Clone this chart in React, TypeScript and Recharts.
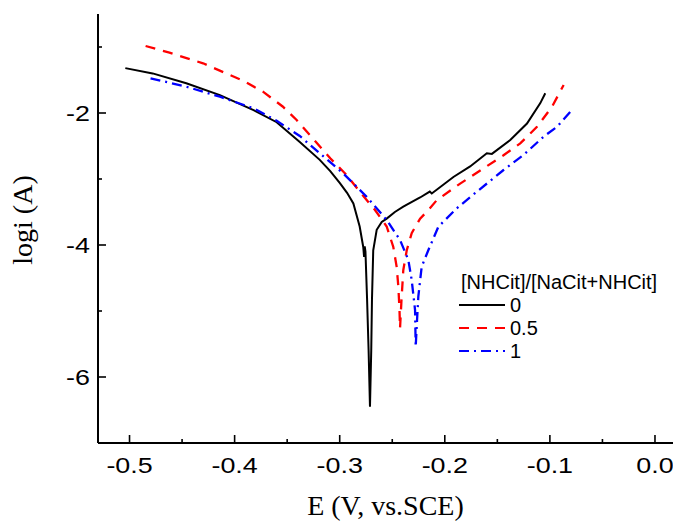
import React from 'react';
import { LineChart, Line, XAxis, YAxis, Legend } from 'recharts';

if (typeof document !== 'undefined') {
  document.body.style.margin = '0';
}

// [E (V vs. SCE), log i (A)] in scan order
const series0: [number, number][] = [
  [-0.504, -1.32], [-0.478, -1.40], [-0.446, -1.55], [-0.414, -1.73], [-0.382, -1.955],
  [-0.360, -2.14], [-0.338, -2.44], [-0.319, -2.71], [-0.309, -2.88], [-0.300, -3.06],
  [-0.293, -3.21], [-0.287, -3.37], [-0.281, -3.72], [-0.2776, -4.03], [-0.2768, -4.18],
  [-0.2762, -4.02], [-0.2755, -4.10], [-0.2740, -4.80], [-0.2725, -5.60], [-0.2712, -6.45],
  [-0.2700, -5.60], [-0.2693, -4.83], [-0.2681, -4.08], [-0.2648, -3.77], [-0.260, -3.65],
  [-0.2553, -3.60], [-0.2475, -3.50], [-0.2395, -3.42], [-0.2235, -3.28], [-0.2143, -3.19],
  [-0.2124, -3.22], [-0.1918, -2.97], [-0.1759, -2.81], [-0.160, -2.61], [-0.1552, -2.62],
  [-0.1377, -2.41], [-0.1218, -2.16], [-0.1091, -1.85], [-0.1044, -1.70],
];

const series05: [number, number][] = [
  [-0.4847, -0.985], [-0.462, -1.086], [-0.430, -1.247], [-0.392, -1.511], [-0.373, -1.677],
  [-0.354, -1.905], [-0.341, -2.106], [-0.3284, -2.333], [-0.309, -2.686], [-0.2934, -2.94],
  [-0.281, -3.19], [-0.2664, -3.47], [-0.2553, -3.72], [-0.249, -4.03], [-0.2458, -4.33],
  [-0.2442, -4.63], [-0.2431, -4.99], [-0.2426, -5.26], [-0.2412, -4.83], [-0.2395, -4.38],
  [-0.2362, -4.08], [-0.2315, -3.82], [-0.2235, -3.60], [-0.2156, -3.47], [-0.2076, -3.32],
  [-0.1854, -3.07], [-0.1632, -2.84], [-0.1441, -2.64], [-0.1282, -2.46], [-0.1123, -2.21],
  [-0.098, -1.905], [-0.0869, -1.576],
];

const series1: [number, number][] = [
  [-0.480, -1.474], [-0.446, -1.601], [-0.414, -1.753], [-0.382, -1.929], [-0.360, -2.117],
  [-0.338, -2.348], [-0.319, -2.611], [-0.2967, -2.914], [-0.2744, -3.268], [-0.2553, -3.621],
  [-0.2426, -3.924], [-0.2347, -4.227], [-0.2315, -4.530], [-0.2283, -4.985], [-0.2277, -5.541],
  [-0.2264, -5.136], [-0.2252, -4.783], [-0.222, -4.329], [-0.2156, -4.076], [-0.2061, -3.723],
  [-0.1886, -3.444], [-0.1695, -3.192], [-0.1441, -2.864], [-0.1251, -2.636], [-0.106, -2.359],
  [-0.0932, -2.208], [-0.0805, -1.980],
];

const seriesNames = ['0', '0.5', '1'];
const legendTitle = '[NHCit]/[NaCit+NHCit]';
const xTitle = 'E (V, vs.SCE)';
const yTitle = 'logi (A)';

const xMajorTicks = [-0.5, -0.4, -0.3, -0.2, -0.1, 0.0];
const xMinorTicks = [-0.45, -0.35, -0.25, -0.15, -0.05];
const yMajorTicks = [-6, -4, -2];
const yMinorTicks = [-7, -5, -3, -1];
const xDomain: [number, number] = [-0.53, 0.02];
const yDomain: [number, number] = [-7, -0.5];

const toData = (arr: [number, number][]) => arr.map(([E, v]) => ({ E, v }));

const styles = [
  { stroke: '#000000', dash: undefined as string | undefined, width: 2 },
  { stroke: '#ff0000', dash: '10 8', width: 2.3 },
  { stroke: '#0000ff', dash: '10 5 2 5', width: 2.3 },
];
const datasets = [toData(series0), toData(series05), toData(series1)];

const SANS = '"Liberation Sans", Arial, Helvetica, sans-serif';
const SERIF = '"Liberation Serif", "Times New Roman", Times, serif';

const isIn = (list: number[], v: number) => list.some((t) => Math.abs(t - v) < 1e-6);

const X_MARGIN = 30;
const Y_MARGIN = 8;
const TICK_FONT = 21.5;
const TICK_STRETCH = 1.25;

const XTick = (props: any) => {
  const { x, y, payload } = props;
  const v = payload.value;
  const major = isIn(xMajorTicks, v);
  const axisY = y - X_MARGIN;
  return (
    <g>
      <line x1={x} x2={x} y1={axisY} y2={axisY - (major ? 8 : 4)} stroke="#000" strokeWidth={1.6} />
      {major && (
        <text
          transform={`translate(${x},${y}) scale(${TICK_STRETCH},1)`}
          textAnchor="middle"
          fontFamily={SANS}
          fontSize={TICK_FONT}
          fill="#000"
        >
          {Math.abs(v) < 1e-9 ? '0.0' : v.toFixed(1)}
        </text>
      )}
    </g>
  );
};

const YTick = (props: any) => {
  const { x, y, payload } = props;
  const v = payload.value;
  const major = isIn(yMajorTicks, v);
  const axisX = x + Y_MARGIN;
  return (
    <g>
      <line x1={axisX} x2={axisX + (major ? 8 : 4)} y1={y} y2={y} stroke="#000" strokeWidth={1.6} />
      {major && (
        <text
          transform={`translate(${x},${y}) scale(${TICK_STRETCH},1)`}
          dy="0.36em"
          textAnchor="end"
          fontFamily={SANS}
          fontSize={TICK_FONT}
          fill="#000"
        >
          {String(v)}
        </text>
      )}
    </g>
  );
};

const XTitle = (props: any) => {
  const vb = props.viewBox || {};
  return (
    <text x={vb.x + vb.width / 2 - 1.5} y={vb.y + vb.height - 6} textAnchor="middle" fontFamily={SERIF} fontSize={28} fill="#000">
      {xTitle}
    </text>
  );
};

const YTitle = (props: any) => {
  const vb = props.viewBox || {};
  const cx = vb.x + 32;
  const cy = vb.y + vb.height / 2 - 8.5;
  return (
    <text x={cx} y={cy} textAnchor="middle" fontFamily={SERIF} fontSize={28} fill="#000" transform={`rotate(-90, ${cx}, ${cy})`}>
      {yTitle}
    </text>
  );
};

const LegendContent = () => (
  <div style={{ fontFamily: SANS, fontSize: 20, lineHeight: '23px', color: '#000', whiteSpace: 'nowrap' }}>
    <div style={{ paddingLeft: 2, height: 23 }}>{legendTitle}</div>
    {seriesNames.map((name, i) => (
      <div key={name} style={{ display: 'flex', alignItems: 'center', height: 23 }}>
        <svg width={46} height={10} style={{ display: 'block' }}>
          <line x1={0} x2={46} y1={5} y2={5} stroke={styles[i].stroke} strokeWidth={2} strokeDasharray={styles[i].dash} />
        </svg>
        <span style={{ marginLeft: 5 }}>{name}</span>
      </div>
    ))}
  </div>
);

export default function App() {
  return (
    <div style={{ width: 673, height: 521, overflow: 'hidden', position: 'relative' }}>
      <LineChart width={688} height={521} margin={{ top: 14, right: 12, bottom: 0, left: 0 }}>
        <XAxis
          xAxisId="top"
          orientation="top"
          type="number"
          dataKey="E"
          domain={xDomain}
          allowDataOverflow
          height={0}
          tick={false}
          tickLine={false}
          axisLine={{ stroke: '#000', strokeWidth: 2 }}
        />
        <XAxis
          type="number"
          dataKey="E"
          domain={xDomain}
          allowDataOverflow
          ticks={[...xMajorTicks, ...xMinorTicks].sort((a, b) => a - b)}
          interval={0}
          height={78}
          tickSize={0}
          tickMargin={X_MARGIN}
          tickLine={false}
          tick={<XTick />}
          axisLine={{ stroke: '#000', strokeWidth: 2 }}
          label={<XTitle />}
        />
        <YAxis
          type="number"
          domain={yDomain}
          allowDataOverflow
          ticks={[...yMinorTicks, ...yMajorTicks].sort((a, b) => a - b)}
          interval={0}
          width={98}
          tickSize={0}
          tickMargin={Y_MARGIN}
          tickLine={false}
          tick={<YTick />}
          axisLine={{ stroke: '#000', strokeWidth: 2 }}
          label={<YTitle />}
        />
        {datasets.map((d, i) => (
          <Line
            key={seriesNames[i]}
            data={d}
            dataKey="v"
            name={seriesNames[i]}
            type="linear"
            stroke={styles[i].stroke}
            strokeWidth={styles[i].width}
            strokeDasharray={styles[i].dash}
            dot={false}
            activeDot={false}
            isAnimationActive={false}
          />
        ))}
        <Legend
          layout="vertical"
          align="center"
          verticalAlign="middle"
          content={<LegendContent />}
          wrapperStyle={{ left: 459, top: 270.5, width: 220, height: 'auto' }}
        />
      </LineChart>
    </div>
  );
}
